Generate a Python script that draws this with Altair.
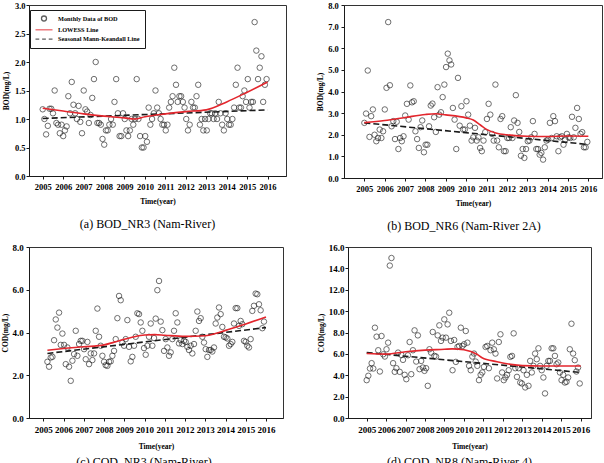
import altair as alt
import pandas as pd

SERIF = "Liberation Serif"
SERIES = ["Monthly Data of BOD", "LOWESS Line", "Seasonal Mann-Keandall Line"]
YEARS = list(range(2005, 2017))

# ---- (a) BOD at NR3 (mg/L), monthly ----
bod_nr3 = [1.17, 1.0, 0.73, 0.88, 1.18, 1.18, 1.1, 1.5, 0.93, 0.9,
           0.75, 0.9, 0.7, 0.8, 0.87, 1.4, 1.1, 1.65, 1.25, 1.1,
           1.0, 1.23, 0.95, 0.75, 1.5, 1.17, 1.13, 0.93, 1.07, 1.37,
           1.7, 2.0, 0.93, 0.93, 0.9, 0.65, 0.55, 0.8, 0.8, 0.9,
           1.0, 0.9, 1.3, 1.7, 1.1, 0.7, 0.7, 1.1, 1.0, 0.8,
           0.7, 0.8, 1.0, 0.9, 1.0, 1.7, 1.0, 0.7, 0.5, 0.5,
           0.7, 0.6, 1.2, 0.9, 1.0, 1.1, 1.5, 1.2, 1.1, 1.0,
           0.9, 0.9, 0.8, 0.9, 1.2, 1.3, 1.4, 1.9, 1.6, 1.3,
           1.4, 1.4, 1.3, 1.2, 1.0, 0.8, 0.9, 1.3, 1.2, 1.2,
           1.4, 1.6, 0.9, 1.0, 0.8, 1.0, 0.8, 1.0, 1.1, 1.1,
           1.0, 1.1, 1.0, 1.3, 1.1, 0.9, 0.8, 1.1, 1.0, 0.9,
           0.9, 1.0, 1.2, 1.6, 1.9, 1.2, 1.2, 1.4, 1.5, 1.3,
           1.7, 1.2, 1.3, 1.3, 2.7, 2.2, 1.7, 1.9, 2.1, 1.3,
           1.6, 1.7]
bod_nr3_lowess_t = [2005, 2006, 2007, 2008, 2009, 2009.5, 2010, 2011, 2012, 2013, 2014, 2015, 2016]
bod_nr3_lowess = [1.19, 1.14, 1.09, 1.05, 1.02, 1.0, 1.04, 1.09, 1.13, 1.16, 1.3, 1.47, 1.65]
bod_nr3_mk_t = [2005, 2016]
bod_nr3_mk = [1.01, 1.16]

# ---- (b) BOD at NR6 (mg/L), monthly ----
bod_nr6 = [2.55, 2.98, 4.97, 1.9, 2.86, 3.17, 2.0, 1.7, 1.85, 2.24,
           1.85, 2.16, 3.17, 4.17, 7.21, 4.29, 2.39, 2.63, 1.8, 2.6,
           1.34, 1.85, 1.7, 1.93, 2.89, 3.43, 2.7, 4.28, 3.5, 3.55,
           2.16, 1.8, 1.39, 2.35, 2.66, 1.19, 1.54, 1.54, 2.39, 3.35,
           3.44, 2.81, 2.13, 4.2, 2.93, 3.04, 3.74, 4.32, 5.13, 5.75,
           5.44, 5.25, 3.24, 2.7, 1.34, 4.63, 2.42, 3.32, 2.24, 2.24,
           3.55, 2.93, 2.42, 1.73, 1.88, 2.32, 1.73, 1.88, 1.39, 1.24,
           1.73, 2.12, 2.73, 3.43, 2.93, 2.04, 1.73, 4.32, 1.73, 1.42,
           2.73, 2.86, 1.24, 1.24, 1.85, 1.85, 2.35, 1.85, 2.66, 3.83,
           2.55, 2.13, 1.03, 1.34, 0.93, 1.34, 1.7, 1.73, 1.88, 2.63,
           2.04, 1.34, 1.34, 1.08, 1.16, 0.85, 1.42, 1.73, 1.78, 2.55,
           1.85, 2.86, 2.63, 1.93, 1.24, 1.88, 1.93, 1.54, 1.78, 2.04,
           1.88, 1.85, 2.83, 1.88, 2.32, 3.24, 2.73, 2.04, 2.12, 1.42,
           1.42, 1.67]
bod_nr6_lowess_t = [2005, 2006, 2007, 2008, 2008.5, 2009, 2010, 2010.35, 2010.7, 2011, 2011.5, 2012, 2013, 2014, 2015, 2016]
bod_nr6_lowess = [2.56, 2.66, 2.8, 2.94, 2.97, 2.92, 2.78, 2.68, 2.45, 2.25, 2.07, 2.0, 1.93, 1.92, 1.94, 1.93]
bod_nr6_mk_t = [2005, 2016]
bod_nr6_mk = [2.55, 1.55]

# ---- (c) COD at NR3 (mg/L), monthly ----
cod_nr3 = [2.63, 2.4, 2.83, 2.86, 3.64, 4.61, 4.23, 4.93, 3.42, 3.95,
           3.42, 2.52, 3.3, 2.4, 1.74, 2.68, 2.99, 4.08, 2.91, 3.46,
           3.61, 3.61, 3.22, 2.75, 3.56, 2.52, 3.02, 2.71, 3.02, 4.08,
           5.12, 3.8, 3.38, 2.91, 2.63, 2.47, 2.44, 2.63, 2.65, 2.91,
           3.14, 3.69, 4.67, 5.71, 5.51, 3.53, 3.38, 3.69, 4.58, 3.33,
           2.65, 2.86, 3.38, 3.8, 4.9, 4.86, 4.47, 4.08, 3.27, 2.96,
           3.38, 3.8, 4.42, 3.38, 3.74, 4.65, 5.98, 6.41, 4.51, 4.11,
           3.14, 3.69, 3.3, 2.91, 3.07, 3.69, 4.08, 4.9, 4.47, 3.49,
           3.64, 3.46, 3.61, 3.56, 3.33, 3.18, 3.38, 3.02, 3.46, 4.08,
           4.98, 4.54, 4.67, 3.8, 3.53, 3.22, 2.86, 3.18, 3.18, 3.11,
           3.3, 4.42, 4.7, 5.17, 4.86, 4.26, 3.8, 3.77, 3.72, 3.38,
           3.46, 3.56, 4.42, 5.14, 5.14, 4.31, 4.54, 4.39, 3.61, 3.56,
           3.38, 3.3, 3.69, 5.01, 5.25, 5.82, 5.79, 5.32, 5.04, 4.2,
           4.51]
cod_nr3_lowess_t = [2005.2, 2006, 2007, 2008, 2008.5, 2009, 2009.5, 2010, 2010.5, 2011, 2012, 2013, 2013.5, 2014, 2015, 2016]
cod_nr3_lowess = [3.17, 3.25, 3.33, 3.42, 3.55, 3.68, 3.8, 3.88, 3.9, 3.87, 3.82, 3.85, 3.95, 4.1, 4.4, 4.73]
cod_nr3_mk_t = [2005.2, 2016]
cod_nr3_mk = [3.02, 4.23]

# ---- (d) COD at NR8 (mg/L), monthly ----
cod_nr8 = [3.54, 3.95, 4.63, 5.13, 4.63, 8.45, 7.61, 6.34, 4.35, 7.67,
           5.96, 5.75, 6.43, 7.05, 14.26, 14.97, 5.13, 4.32, 4.66, 6.12,
           4.32, 5.9, 5.44, 4.04, 3.63, 5.87, 7.11, 4.1, 6.34, 8.2,
           5.28, 7.73, 4.57, 5.34, 4.72, 4.41, 4.66, 3.01, 6.43, 6.12,
           8.05, 5.81, 5.75, 7.73, 8.67, 7.21, 7.52, 9.23, 7.52, 8.76,
           9.85, 7.21, 4.47, 7.3, 5.25, 6.65, 6.74, 8.45, 6.74, 6.9,
           8.14, 7.05, 4.88, 4.47, 5.75, 6.03, 5.28, 4.88, 3.54, 4.04,
           4.26, 4.78, 6.65, 6.74, 4.66, 6.34, 7.05, 6.43, 6.03, 3.7,
           7.11, 7.83, 4.26, 3.54, 3.79, 4.04, 4.47, 5.72, 5.81, 7.92,
           4.66, 3.85, 4.66, 3.32, 3.23, 4.47, 2.86, 4.04, 3.01, 5.34,
           4.26, 4.88, 6.03, 5.5, 6.52, 4.88, 4.47, 3.79, 2.3, 4.88,
           5.34, 5.34, 6.52, 6.52, 5.81, 5.03, 5.19, 4.26, 3.54, 4.04,
           3.32, 3.39, 3.79, 6.43, 8.82, 6.03, 5.41, 4.35, 4.72, 3.23]
cod_nr8_lowess_t = [2005, 2006, 2007, 2008, 2009, 2009.4, 2010, 2010.67, 2010.93, 2011.7, 2012.4, 2013, 2014, 2015, 2016]
cod_nr8_lowess = [6.03, 5.98, 6.2, 6.35, 6.43, 6.47, 6.38, 5.96, 5.64, 5.27, 5.02, 4.9, 4.86, 4.86, 4.86]
cod_nr8_mk_t = [2005, 2016]
cod_nr8_mk = [6.12, 4.26]

LINE_SHAPE = "M-3.4,0H3.4"
DASH_SHAPE = "M-3.4,0H-1.9M-0.75,0H0.75M1.9,0H3.4"
RED = "#e3262d"
INK = "#1a1a1a"


def month_times(start, end, n):
    step = (end - start) / (n - 1)
    return [start + i * step for i in range(n)]


def panel(values, t0, t1, low_t, low_v, mk_t, mk_v, xdom, ymax, ystep,
          ytitle, caption, w, h, fs, ylab_pad, ytitle_pad, xlab_pad, xtitle_pad,
          cap_offset, cap_dx, legend=False):
    pts = pd.DataFrame({"time": month_times(t0, t1, len(values)),
                        "value": values, "series": SERIES[0]})
    low = pd.DataFrame({"time": low_t, "value": low_v})
    mk = pd.DataFrame({"time": mk_t, "value": mk_v})
    nticks = int(round(ymax / ystep))
    yvals = [round(i * ystep, 1) for i in range(nticks + 1)]

    x = alt.X("time:Q",
              scale=alt.Scale(domain=xdom, nice=False, zero=False),
              axis=alt.Axis(values=YEARS, tickCount=len(YEARS) + 2, format="d",
                            title="Time(year)", labelFontSize=fs, labelPadding=xlab_pad,
                            titlePadding=xtitle_pad, labelFlush=False, labelOverlap=False))
    y = alt.Y("value:Q",
              scale=alt.Scale(domain=[0, ymax + ymax * 1e-6], nice=False),
              axis=alt.Axis(values=yvals, tickCount=len(yvals) + 2, format=".1f",
                            title=ytitle, labelFontSize=fs, labelPadding=ylab_pad,
                            titlePadding=ytitle_pad, labelFlush=False, labelOverlap=False))

    if legend:
        leg = alt.Legend(title=None, orient="none", legendX=1, legendY=5,
                         strokeColor=INK, fillColor="white", padding=5,
                         symbolOffset=5.5, symbolSize=25, symbolStrokeWidth=1.3,
                         labelOffset=10.5, rowPadding=2.3,
                         labelFont=SERIF, labelFontWeight="bold",
                         labelFontSize=6.3, labelColor="black")
        color = alt.Color("series:N", scale=alt.Scale(domain=SERIES, range=[INK, RED, INK]),
                          legend=leg)
        shape = alt.Shape("series:N",
                          scale=alt.Scale(domain=SERIES, range=["circle", LINE_SHAPE, DASH_SHAPE]),
                          legend=leg)
        points = alt.Chart(pts).mark_point(filled=False, size=30, strokeWidth=0.9).encode(
            x=x, y=y, color=color, shape=shape)
    else:
        points = alt.Chart(pts).mark_point(shape="circle", filled=False, size=30,
                                           strokeWidth=0.9, color=INK).encode(x=x, y=y)

    mk_line = alt.Chart(mk).mark_line(color=INK, strokeWidth=1.6, strokeDash=[6, 3]).encode(
        x="time:Q", y="value:Q")
    low_line = alt.Chart(low).mark_line(color=RED, strokeWidth=1.6, interpolate="monotone").encode(
        x="time:Q", y="value:Q")

    return alt.layer(points, mk_line, low_line).properties(
        width=w, height=h,
        title=alt.TitleParams(caption, orient="bottom", font=SERIF, fontSize=12,
                              fontWeight="normal", color="black", offset=cap_offset,
                              dx=cap_dx))


pa = panel(bod_nr3, 2005.0, 2015.95, bod_nr3_lowess_t, bod_nr3_lowess, bod_nr3_mk_t, bod_nr3_mk,
           [2004.33, 2016.9], 3.0, 0.5, "BOD(mg/L)", "(a) BOD_NR3 (Nam-River)",
           257, 171, 8.5, 1, 4, 3, 7, 14, -10, legend=True)
pb = panel(bod_nr6, 2005.0, 2015.95, bod_nr6_lowess_t, bod_nr6_lowess, bod_nr6_mk_t, bod_nr6_mk,
           [2004.0, 2016.67], 8.0, 1.0, "BOD(mg/L)", "(b) BOD_NR6 (Nam-River 2A)",
           258, 173, 8.5, 2.7, 3, 3, 7, 14, -9)
pc = panel(cod_nr3, 2005.2, 2015.9, cod_nr3_lowess_t, cod_nr3_lowess, cod_nr3_mk_t, cod_nr3_mk,
           [2004.29, 2016.84], 8.0, 2.0, "COD(mg/L)", "(c) COD_NR3 (Nam-River)",
           254, 171, 9, 2.7, 3, 4.5, 8, 7, -12)
pd_ = panel(cod_nr8, 2005.0, 2015.95, cod_nr8_lowess_t, cod_nr8_lowess, cod_nr8_mk_t, cod_nr8_mk,
            [2004.04, 2016.53], 16.0, 2.0, "COD(mg/L)", "(d) COD_NR8 (Nam-River 4)",
            243, 171, 9, 1, 3, 4.5, 8, 7, -10)

chart = alt.vconcat(
    alt.hconcat(pa, pb, spacing=29),
    alt.hconcat(pc, pd_, spacing=32),
    spacing=9,
).properties(
    padding={"left": 0, "top": 0, "right": 0, "bottom": 0},
    background="white",
).configure_view(
    stroke="#333333", strokeWidth=1
).configure_axis(
    labelFont=SERIF, labelFontWeight="bold", labelColor="black",
    titleFont=SERIF, titleFontWeight="bold", titleFontSize=7.5, titleColor="black",
    domainColor=INK, tickColor=INK, tickSize=3, grid=False,
)

chart.save("out.html", embed_options={"renderer": "svg", "actions": False})
